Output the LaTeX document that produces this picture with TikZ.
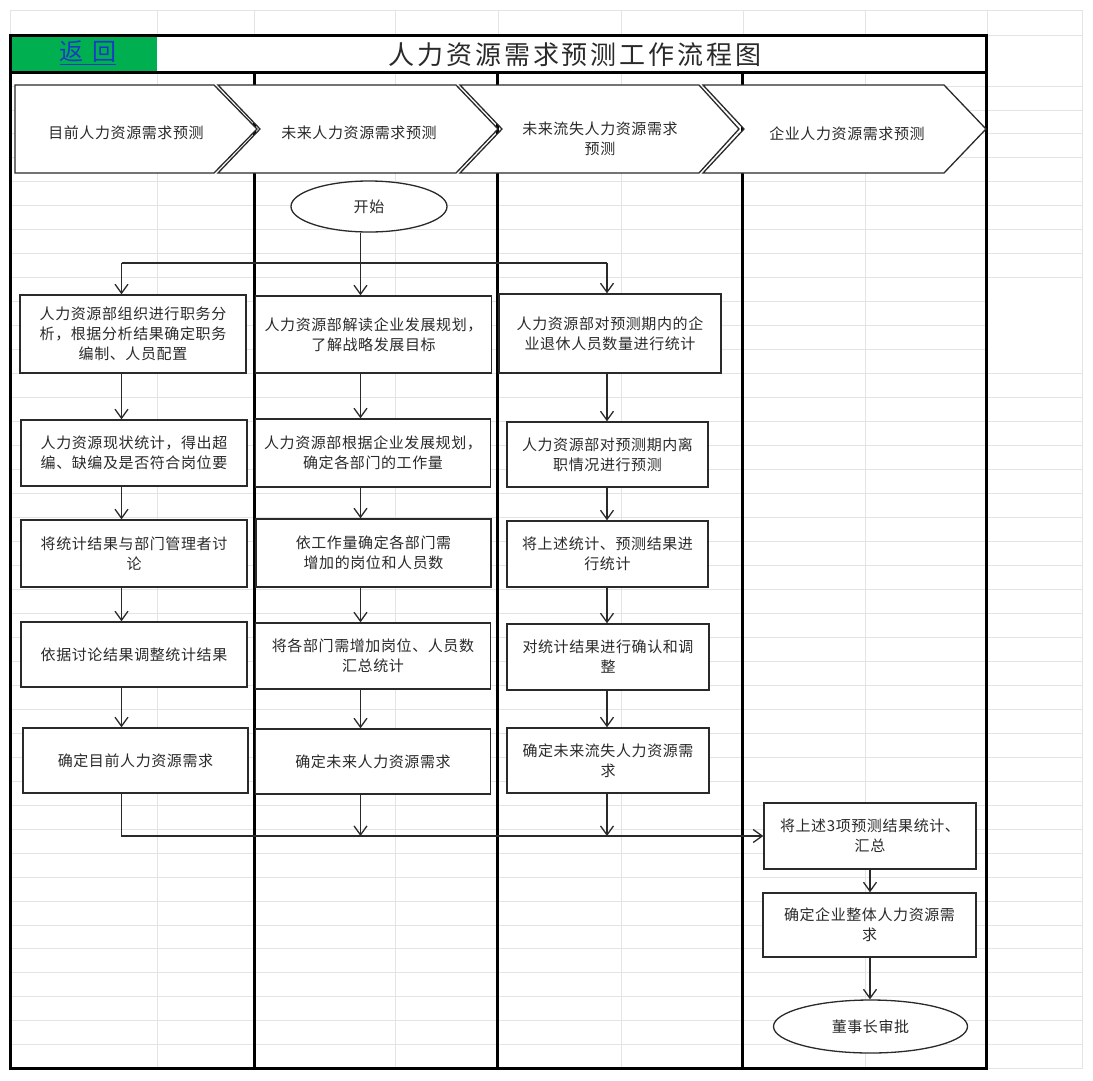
\documentclass[tikz,border=0pt]{standalone}
\usepackage{fontspec}
\setmainfont{Noto Sans CJK SC}
\newfontfamily\boxfont[LetterSpace=4]{Noto Sans CJK SC}
\newfontfamily\titlefont[LetterSpace=11]{Noto Sans CJK SC}
\newfontfamily\backfont[LetterSpace=35]{Noto Sans CJK SC}
\usetikzlibrary{arrows.meta,shapes.geometric}
\definecolor{cellgreen}{HTML}{00B050}
\definecolor{linkblue}{RGB}{28,58,200}
\definecolor{gridgray}{HTML}{E4E4E4}
\definecolor{ink}{HTML}{2A2A2A}
\begin{document}
\begin{tikzpicture}[x=1pt,y=-1pt,
  gridline/.style={draw=gridgray,line width=0.9pt},
  frameline/.style={draw=black,line width=3pt},
  chev/.style={draw=ink,fill=white,line width=1.3pt,line join=miter},
  txt/.style={font=\boxfont\fontsize{15}{20}\selectfont,text=ink},
  pbox/.style={txt,draw=ink,fill=white,line width=1.4pt,inner sep=0pt,align=center},
  term/.style={txt,ellipse,draw=ink,fill=white,line width=1.3pt,inner sep=0pt},
  lbl/.style={txt,align=center,inner sep=0pt},
  link/.style={draw=ink,line width=1.3pt},
  arr/.style={link,-{Straight Barb[length=9pt,width=13pt,line width=1.3pt]}}
]
\useasboundingbox (0,0) rectangle (1093,1080);
\fill[white] (0,0) rectangle (1093,1080);
% spreadsheet grid
\foreach \x in {10,157,254,395,498,621,743,865,987,1082}
  \draw[gridline] (\x,10) -- (\x,1069);
\draw[gridline] (10,10) -- (1082,10);
\draw[gridline] (10,35) -- (1082,35);
\foreach \k in {0,...,8,12,13,...,41}
  \draw[gridline] (10,{86+23.97*\k}) -- (1082,{86+23.97*\k});
\foreach \k in {9,10,11}
  \draw[gridline] (10,{86+23.97*\k}) -- (987,{86+23.97*\k});
% title row
\fill[cellgreen] (10,35) rectangle (157,72);
\fill[white] (157,35) rectangle (986,72);
\node[font=\titlefont\fontsize{26}{30}\selectfont,text=ink,inner sep=0pt] (title) at (575,55) {人力资源需求预测工作流程图};
\node[font=\backfont\fontsize{24}{28}\selectfont,text=linkblue,inner sep=0pt] (back) at (88,53) {\underline{返回}};
% frame and lanes
\draw[frameline] (10,35) rectangle (986,1068);
\draw[frameline] (10,72) -- (986,72);
\draw[frameline] (254,72) -- (254,1068);
\draw[frameline] (497.5,72) -- (497.5,1068);
\draw[frameline] (742,72) -- (742,1068);
% header chevrons
\draw[chev] (15,85) -- (214,85) -- (257,129) -- (214,173) -- (15,173) -- cycle;
\draw[chev] (218,85) -- (456,85) -- (498,129) -- (456,173) -- (218,173) -- (260,129) -- cycle;
\draw[chev] (460,85) -- (699,85) -- (739,129) -- (699,173) -- (460,173) -- (502,129) -- cycle;
\draw[chev] (703,85) -- (944,85) -- (986,129) -- (944,173) -- (703,173) -- (744,129) -- cycle;
\node[lbl] (h1) at (126,133) {目前人力资源需求预测};
\node[lbl] (h2) at (359,133) {未来人力资源需求预测};
\node[lbl] (h3) at (600,139) {未来流失人力资源需求\\预测};
\node[lbl] (h4) at (847,134) {企业人力资源需求预测};
% connector columns
\coordinate (c1) at (121.5,0);
\coordinate (c2) at (360.5,0);
\coordinate (c3) at (607,0);
\coordinate (c4) at (870,0);
\coordinate (br) at (0,263);
\coordinate (mg) at (0,836);
% start
\node[term,minimum width=156pt,minimum height=51pt] (start) at (369,206.5) {开始};
% column 1
\node[pbox,minimum width=226pt,minimum height=78pt] (b11) at (133,334) {人力资源部组织进行职务分\\析，根据分析结果确定职务\\编制、人员配置};
\node[pbox,minimum width=226pt,minimum height=66pt] (b12) at (134,453) {人力资源现状统计，得出超\\编、缺编及是否符合岗位要};
\node[pbox,minimum width=226pt,minimum height=67pt] (b13) at (134,553.5) {将统计结果与部门管理者讨\\论};
\node[pbox,minimum width=226pt,minimum height=65pt] (b14) at (134,654.5) {依据讨论结果调整统计结果};
\node[pbox,minimum width=225pt,minimum height=65pt] (b15) at (135.5,760.5) {确定目前人力资源需求};
% column 2
\node[pbox,minimum width=236pt,minimum height=77pt] (b21) at (373.5,334.5) {人力资源部解读企业发展规划，\\了解战略发展目标};
\node[pbox,minimum width=235pt,minimum height=68pt] (b22) at (373,453) {人力资源部根据企业发展规划，\\确定各部门的工作量};
\node[pbox,minimum width=235pt,minimum height=68pt] (b23) at (373.5,553) {依工作量确定各部门需\\增加的岗位和人员数};
\node[pbox,minimum width=235pt,minimum height=66pt] (b24) at (373,656) {将各部门需增加岗位、人员数\\汇总统计};
\node[pbox,minimum width=235pt,minimum height=65pt] (b25) at (373,761.5) {确定未来人力资源需求};
% column 3
\node[pbox,minimum width=222pt,minimum height=79pt] (b31) at (610,333.5) {人力资源部对预测期内的企\\业退休人员数量进行统计};
\node[pbox,minimum width=201pt,minimum height=65pt] (b32) at (607.5,454.5) {人力资源部对预测期内离\\职情况进行预测};
\node[pbox,minimum width=201pt,minimum height=66pt] (b33) at (607.5,554) {将上述统计、预测结果进\\行统计};
\node[pbox,minimum width=202pt,minimum height=66pt] (b34) at (608,657) {对统计结果进行确认和调\\整};
\node[pbox,minimum width=202pt,minimum height=65pt] (b35) at (608,760.5) {确定未来流失人力资源需\\求};
% column 4
\node[pbox,minimum width=212pt,minimum height=66pt] (b41) at (870,836) {将上述3项预测结果统计、\\汇总};
\node[pbox,minimum width=213pt,minimum height=64pt] (b42) at (869.5,925) {确定企业整体人力资源需\\求};
\node[term,minimum width=194pt,minimum height=53pt] (end) at (870.5,1026.5) {董事长审批};
% connectors: start and branch
\draw[arr] (start.south -| c2) -- (b21.north -| c2);
\draw[link] (c1 |- br) -- (c3 |- br);
\draw[arr] (c1 |- br) -- (b11.north -| c1);
\draw[arr] (c3 |- br) -- (b31.north -| c3);
% column 1 flow
\draw[arr] (b11.south -| c1) -- (b12.north -| c1);
\draw[arr] (b12.south -| c1) -- (b13.north -| c1);
\draw[arr] (b13.south -| c1) -- (b14.north -| c1);
\draw[arr] (b14.south -| c1) -- (b15.north -| c1);
% column 2 flow
\draw[arr] (b21.south -| c2) -- (b22.north -| c2);
\draw[arr] (b22.south -| c2) -- (b23.north -| c2);
\draw[arr] (b23.south -| c2) -- (b24.north -| c2);
\draw[arr] (b24.south -| c2) -- (b25.north -| c2);
% column 3 flow
\draw[arr] (b31.south -| c3) -- (b32.north -| c3);
\draw[arr] (b32.south -| c3) -- (b33.north -| c3);
\draw[arr] (b33.south -| c3) -- (b34.north -| c3);
\draw[arr] (b34.south -| c3) -- (b35.north -| c3);
% merge
\draw[arr] (b15.south -| c1) -- (c1 |- mg) -- (b41.west);
\draw[arr] (b25.south -| c2) -- (c2 |- mg);
\draw[arr] (b35.south -| c3) -- (c3 |- mg);
% column 4 flow
\draw[arr] (b41.south -| c4) -- (b42.north -| c4);
\draw[arr] (b42.south -| c4) -- (end.north -| c4);
\end{tikzpicture}
\end{document}
